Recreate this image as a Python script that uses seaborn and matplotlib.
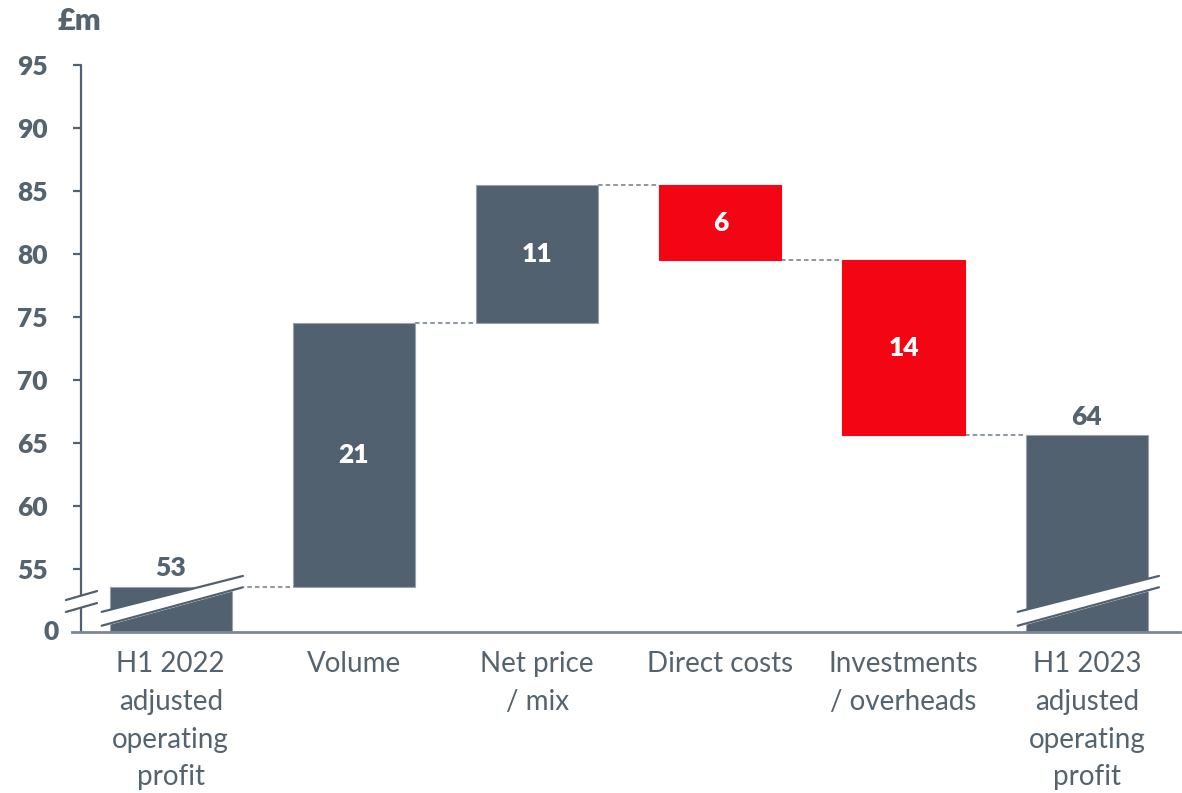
import numpy as np
import matplotlib
matplotlib.use("Agg")
import matplotlib.pyplot as plt
import seaborn as sns

# --- data ---
categories = [
    "H1 2022\nadjusted\noperating\nprofit",
    "Volume",
    "Net price\n/ mix",
    "Direct costs",
    "Investments\n/ overheads",
    "H1 2023\nadjusted\noperating\nprofit",
]
start_value = 53.6
deltas = [20.9, 11.0, -6.0, -13.9]
value_labels = ["53", "21", "11", "6", "14", "64"]
ytick_values = [50, 55, 60, 65, 70, 75, 80, 85, 90, 95]
ytick_labels = ["0", "55", "60", "65", "70", "75", "80", "85", "90", "95"]

# --- style ---
SLATE = "#52616F"
RED = "#F40514"
TEXT = "#55636F"
AXIS_FLOOR = 50  # broken axis: "0" drawn at 50
BOLD = 800

sns.set_theme(style="white")
plt.rcParams["font.family"] = ["Lato", "DejaVu Sans"]

# waterfall geometry
end_value = start_value + sum(deltas)
cum = np.concatenate([[start_value], start_value + np.cumsum(deltas)])
bottoms, heights, colors = [AXIS_FLOOR], [start_value - AXIS_FLOOR], [SLATE]
for i, d in enumerate(deltas):
    bottoms.append(min(cum[i], cum[i + 1]))
    heights.append(abs(d))
    colors.append(SLATE if d >= 0 else RED)
bottoms.append(AXIS_FLOOR)
heights.append(end_value - AXIS_FLOOR)
colors.append(SLATE)

fig = plt.figure(figsize=(11.82, 7.93), dpi=100)
ax = fig.add_axes([0.0685, 0.203, 0.93, 0.715])

width = 0.667
sns.barplot(x=categories, y=heights, bottom=bottoms, color=SLATE,
            width=width, errorbar=None, saturation=1, ax=ax, zorder=2)
for patch, c in zip(ax.patches, colors):
    patch.set_facecolor(c)
    patch.set_edgecolor("#9AA3AB" if c == SLATE else c)
    patch.set_linewidth(0.8)

ax.set_xlim(-0.49, 5.51)
ax.set_ylim(AXIS_FLOOR, 95)

# dashed connectors
levels = [start_value] + list(cum[1:])
for i in range(len(categories) - 1):
    ax.plot([i + width / 2, i + 1 - width / 2], [levels[i], levels[i]],
            color="#6F7C88", lw=1.1, ls=(0, (3, 2)), zorder=1)

# value labels
n = len(categories)
for i, (lab, b, h) in enumerate(zip(value_labels, bottoms, heights)):
    if i in (0, n - 1):
        ax.annotate(lab, (i, b + h), xytext=(0, 5), textcoords="offset points",
                    ha="center", va="bottom", fontsize=19, fontweight=BOLD,
                    color=TEXT)
    else:
        ax.text(i, b + h / 2, lab, ha="center", va="center", fontsize=19,
                fontweight=BOLD, color="white")

# break slashes across the two total bars
for i in (0, n - 1):
    xs = np.array([i - 0.377, i + 0.394])
    lo = np.array([50.5, 53.55])
    hi = np.array([51.6, 54.45])
    ax.fill_between(xs, lo, hi, color="white", zorder=3, clip_on=False)
    ax.plot(xs, lo, color=SLATE, lw=1.6, zorder=4, clip_on=False)
    ax.plot(xs, hi, color=SLATE, lw=1.6, zorder=4, clip_on=False)

# axes: manual broken y axis
for s in ["top", "right", "left"]:
    ax.spines[s].set_visible(False)
ax.spines["bottom"].set_color("#7D8893")
ax.spines["bottom"].set_linewidth(2)
ax.spines["bottom"].set_bounds(-0.54, 5.51)
ax.spines["bottom"].set_zorder(5)

ytr = ax.get_yaxis_transform()
ax.plot([0, 0], [AXIS_FLOOR, 51.94], transform=ytr, color=SLATE, lw=1.6,
        clip_on=False, zorder=5)
ax.plot([0, 0], [52.9, 95], transform=ytr, color=SLATE, lw=1.6,
        clip_on=False, zorder=5)
for y0 in (51.59, 52.54):
    ax.plot([-0.0137, 0.0146], [y0, y0 + 0.71], transform=ytr, color=SLATE,
            lw=1.6, clip_on=False, zorder=5)

ax.set_yticks(ytick_values[1:])
ax.set_yticklabels(ytick_labels[1:])
ax.tick_params(axis="y", left=True, length=6, width=1.6, color=SLATE, pad=18,
               labelsize=19, labelcolor=TEXT)
for t in ax.get_yticklabels():
    t.set_fontweight(BOLD)
ax.text(-0.02, AXIS_FLOOR, ytick_labels[0], transform=ytr, ha="right",
        va="center", fontsize=19, fontweight=BOLD, color=TEXT)

ax.tick_params(axis="x", bottom=False, pad=8, labelsize=20, labelcolor=TEXT)
for t in ax.get_xticklabels():
    t.set_linespacing(1.55)
ax.set_xlabel("")
ax.set_ylabel("")

fig.text(80 / 1182, 1 - 21 / 793, "£m", ha="center", va="center",
         fontsize=22, fontweight=BOLD, color=TEXT)

fig.savefig("out.png", dpi=100)
